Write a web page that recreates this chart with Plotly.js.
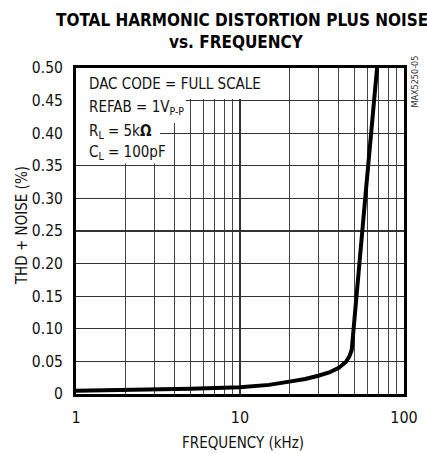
<!DOCTYPE html>
<html><head><meta charset="utf-8">
<script src="https://cdn.plot.ly/plotly-3.0.1.min.js"></script>
<style>html,body{margin:0;padding:0;background:#fff}</style>
</head><body><div id="chart" style="width:427px;height:453px"></div>
<script>
const freqKHz = [1, 2, 5, 10, 15, 20, 25, 30, 35, 40, 44.5, 46.5, 48, 58, 68.5];
const thdNoise = [0.005, 0.006, 0.008, 0.0105, 0.014, 0.019, 0.023, 0.028, 0.033, 0.040, 0.050, 0.058, 0.0675, 0.30, 0.50];
const yTickVals = [0, 0.05, 0.10, 0.15, 0.20, 0.25, 0.30, 0.35, 0.40, 0.45, 0.50];
const yTickText = ["0", "0.05", "0.10", "0.15", "0.20", "0.25", "0.30", "0.35", "0.40", "0.45", "0.50"];
const xTickVals = [1, 10, 100];
const xTickText = ["1", "10", "100"];
const xMinorVals = [2,3,4,5,6,7,8,9,20,30,40,50,60,70,80,90];

const FONT = "'DejaVu Sans Condensed', 'Liberation Sans Narrow', 'Liberation Sans', sans-serif";
const f = (size, extra) => Object.assign({family: FONT, size: size, color: '#111', stretch: 'condensed'}, extra || {});

const trace = {
  x: freqKHz, y: thdNoise, type: 'scatter', mode: 'lines',
  line: {color: '#000', width: 4}, hoverinfo: 'skip'
};

const layout = {
  width: 427, height: 453,
  margin: {l: 76, r: 23, t: 68, b: 59},
  paper_bgcolor: '#fff', plot_bgcolor: '#fff',
  showlegend: false,
  font: f(16),
  xaxis: {
    type: 'log', range: [0, 2],
    tickmode: 'array', tickvals: xTickVals, ticktext: xTickText,
    ticks: 'outside', ticklen: 7, tickcolor: 'rgba(0,0,0,0)',
    showgrid: true, gridcolor: '#333', gridwidth: 1.2,
    minor: {tickmode: 'array', tickvals: xMinorVals, showgrid: true, gridcolor: '#444', gridwidth: 1.2, ticks: ''},
    showline: true, linecolor: '#000', linewidth: 3, mirror: true,
    zeroline: false,
    tickfont: f(16)
  },
  yaxis: {
    range: [0, 0.5],
    tickmode: 'array', tickvals: yTickVals, ticktext: yTickText,
    ticks: 'outside', ticklen: 7, tickcolor: 'rgba(0,0,0,0)',
    showgrid: true, gridcolor: '#333', gridwidth: 1.2,
    showline: true, linecolor: '#000', linewidth: 3, mirror: true,
    zeroline: false,
    tickfont: f(15.5)
  },
  shapes: [
    {type: 'rect', xref: 'paper', yref: 'paper', x0: 0, x1: 0.567, y0: 0.905, y1: 1, fillcolor: '#fff', line: {width: 0}, layer: 'above'},
    {type: 'rect', xref: 'paper', yref: 'paper', x0: 0, x1: 0.335, y0: 0.831, y1: 0.905, fillcolor: '#fff', line: {width: 0}, layer: 'above'},
    {type: 'rect', xref: 'paper', yref: 'paper', x0: 0, x1: 0.256, y0: 0.708, y1: 0.831, fillcolor: '#fff', line: {width: 0}, layer: 'above'}
  ],
  annotations: [
    {text: '<b>TOTAL HARMONIC DISTORTION PLUS NOISE</b>', xref: 'paper', yref: 'paper', x: 0.505, y: 1.147, xanchor: 'center', yanchor: 'middle', showarrow: false, font: f(17, {color: '#000'})},
    {text: '<b>vs. FREQUENCY</b>', xref: 'paper', yref: 'paper', x: 0.49, y: 1.08, xanchor: 'center', yanchor: 'middle', showarrow: false, font: f(17, {color: '#000'})},
    {text: 'FREQUENCY (kHz)', xref: 'paper', yref: 'paper', x: 0.509, y: -0.150, xanchor: 'center', yanchor: 'middle', showarrow: false, font: f(15)},
    {text: 'THD + NOISE (%)', xref: 'paper', yref: 'paper', x: -0.1646, y: 0.515, xanchor: 'center', yanchor: 'middle', textangle: -90, showarrow: false, font: f(15)},
    {text: 'DAC CODE = FULL SCALE', xref: 'paper', yref: 'paper', x: 0.035, y: 0.951, xanchor: 'left', yanchor: 'middle', showarrow: false, font: f(15)},
    {text: 'REFAB = 1V<sub>P-P</sub>', xref: 'paper', yref: 'paper', x: 0.035, y: 0.878, xanchor: 'left', yanchor: 'middle', showarrow: false, font: f(15)},
    {text: 'R<sub>L</sub> = 5k<b>Ω</b>', xref: 'paper', yref: 'paper', x: 0.035, y: 0.806, xanchor: 'left', yanchor: 'middle', showarrow: false, font: f(15)},
    {text: 'C<sub>L</sub> = 100pF', xref: 'paper', yref: 'paper', x: 0.035, y: 0.742, xanchor: 'left', yanchor: 'middle', showarrow: false, font: f(15)},
    {text: 'MAX5250-05', xref: 'paper', yref: 'paper', x: 1.035, y: 0.96, xanchor: 'center', yanchor: 'middle', textangle: -90, showarrow: false, font: f(9, {color: '#333'})}
  ]
};

Plotly.newPlot('chart', [trace], layout, {displayModeBar: false, staticPlot: true});
</script>
</body></html>
